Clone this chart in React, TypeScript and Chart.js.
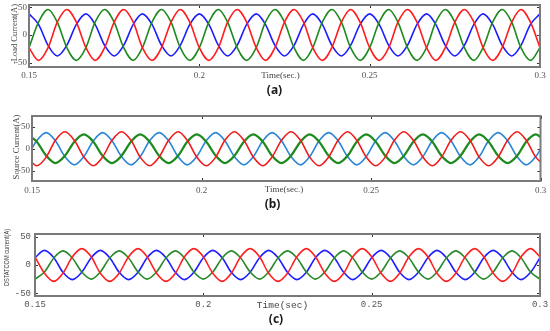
import React, { useEffect, useRef } from "react";
import { Chart, registerables } from "chart.js";

Chart.register(...registerables);

// ---- time grids (s) ----
const timesAC = [
  0.15, 0.1528, 0.1556, 0.1583, 0.1611, 0.1639,
  0.1667, 0.1694, 0.1722, 0.175, 0.1778, 0.1806,
  0.1833, 0.1861, 0.1889, 0.1917, 0.1944, 0.1972,
  0.2, 0.2028, 0.2056, 0.2083, 0.2111, 0.2139,
  0.2167, 0.2194, 0.2222, 0.225, 0.2278, 0.2306,
  0.2333, 0.2361, 0.2389, 0.2417, 0.2444, 0.2472,
  0.25, 0.2528, 0.2556, 0.2583, 0.2611, 0.2639,
  0.2667, 0.2694, 0.2722, 0.275, 0.2778, 0.2806,
  0.2833, 0.2861, 0.2889, 0.2917, 0.2944, 0.2972,
  0.3,
];
const timesB = [
  0.1486, 0.1514, 0.1542, 0.1569, 0.1597, 0.1625,
  0.1653, 0.1681, 0.1708, 0.1736, 0.1764, 0.1792,
  0.1819, 0.1847, 0.1875, 0.1903, 0.1931, 0.1958,
  0.1986, 0.2014, 0.2042, 0.2069, 0.2097, 0.2125,
  0.2153, 0.2181, 0.2208, 0.2236, 0.2264, 0.2292,
  0.2319, 0.2347, 0.2375, 0.2403, 0.2431, 0.2458,
  0.2486, 0.2514, 0.2542, 0.2569, 0.2597, 0.2625,
  0.2653, 0.2681, 0.2708, 0.2736, 0.2764, 0.2792,
  0.2819, 0.2847, 0.2875, 0.2903, 0.2931, 0.2958,
  0.2986, 0.3014,
];

// ---- (a) load current (A) ----
const loadRed = [
  -23, -46, -23, 23, 46, 23,
  -23, -46, -23, 23, 46, 23,
  -23, -46, -23, 23, 46, 23,
  -23, -46, -23, 23, 46, 23,
  -23, -46, -23, 23, 46, 23,
  -23, -46, -23, 23, 46, 23,
  -23, -46, -23, 23, 46, 23,
  -23, -46, -23, 23, 46, 23,
  -23, -46, -23, 23, 46, 23,
  -23,
];
const loadGreen = [
  -23, 23, 46, 23, -23, -46,
  -23, 23, 46, 23, -23, -46,
  -23, 23, 46, 23, -23, -46,
  -23, 23, 46, 23, -23, -46,
  -23, 23, 46, 23, -23, -46,
  -23, 23, 46, 23, -23, -46,
  -23, 23, 46, 23, -23, -46,
  -23, 23, 46, 23, -23, -46,
  -23, 23, 46, 23, -23, -46,
  -23,
];
const loadBlue = [
  38, 19, -19, -38, -19, 19,
  38, 19, -19, -38, -19, 19,
  38, 19, -19, -38, -19, 19,
  38, 19, -19, -38, -19, 19,
  38, 19, -19, -38, -19, 19,
  38, 19, -19, -38, -19, 19,
  38, 19, -19, -38, -19, 19,
  38, 19, -19, -38, -19, 19,
  38, 19, -19, -38, -19, 19,
  38,
];

// ---- (b) source current (A) ----
const sourceRed = [
  -19, -38.5, -19, 19, 38.5, 19,
  -19, -38.5, -19, 19, 38.5, 19,
  -19, -38.5, -19, 19, 38.5, 19,
  -19, -38.5, -19, 19, 38.5, 19,
  -19, -38.5, -19, 19, 38.5, 19,
  -19, -38.5, -19, 19, 38.5, 19,
  -19, -38.5, -19, 19, 38.5, 19,
  -19, -38.5, -19, 19, 38.5, 19,
  -19, -38.5, -19, 19, 38.5, 19,
  -19, -38.5,
];
const sourceGreen = [
  32.5, 16, -16, -32.5, -16, 16,
  32.5, 16, -16, -32.5, -16, 16,
  32.5, 16, -16, -32.5, -16, 16,
  32.5, 16, -16, -32.5, -16, 16,
  32.5, 16, -16, -32.5, -16, 16,
  32.5, 16, -16, -32.5, -16, 16,
  32.5, 16, -16, -32.5, -16, 16,
  32.5, 16, -16, -32.5, -16, 16,
  32.5, 16, -16, -32.5, -16, 16,
  32.5, 16,
];
const sourceBlue = [
  -18, 18, 36.5, 18, -18, -36.5,
  -18, 18, 36.5, 18, -18, -36.5,
  -18, 18, 36.5, 18, -18, -36.5,
  -18, 18, 36.5, 18, -18, -36.5,
  -18, 18, 36.5, 18, -18, -36.5,
  -18, 18, 36.5, 18, -18, -36.5,
  -18, 18, 36.5, 18, -18, -36.5,
  -18, 18, 36.5, 18, -18, -36.5,
  -18, 18, 36.5, 18, -18, -36.5,
  -18, 18,
];

// ---- (c) DSTATCOM current (A) ----
const dstatRed = [
  14.5, -14.5, -29, -14.5, 14.5, 29,
  14.5, -14.5, -29, -14.5, 14.5, 29,
  14.5, -14.5, -29, -14.5, 14.5, 29,
  14.5, -14.5, -29, -14.5, 14.5, 29,
  14.5, -14.5, -29, -14.5, 14.5, 29,
  14.5, -14.5, -29, -14.5, 14.5, 29,
  14.5, -14.5, -29, -14.5, 14.5, 29,
  14.5, -14.5, -29, -14.5, 14.5, 29,
  14.5, -14.5, -29, -14.5, 14.5, 29,
  14.5,
];
const dstatGreen = [
  -25, -12.5, 12.5, 25, 12.5, -12.5,
  -25, -12.5, 12.5, 25, 12.5, -12.5,
  -25, -12.5, 12.5, 25, 12.5, -12.5,
  -25, -12.5, 12.5, 25, 12.5, -12.5,
  -25, -12.5, 12.5, 25, 12.5, -12.5,
  -25, -12.5, 12.5, 25, 12.5, -12.5,
  -25, -12.5, 12.5, 25, 12.5, -12.5,
  -25, -12.5, 12.5, 25, 12.5, -12.5,
  -25, -12.5, 12.5, 25, 12.5, -12.5,
  -25,
];
const dstatBlue = [
  13, 26, 13, -13, -26, -13,
  13, 26, 13, -13, -26, -13,
  13, 26, 13, -13, -26, -13,
  13, 26, 13, -13, -26, -13,
  13, 26, 13, -13, -26, -13,
  13, 26, 13, -13, -26, -13,
  13, 26, 13, -13, -26, -13,
  13, 26, 13, -13, -26, -13,
  13, 26, 13, -13, -26, -13,
  13,
];

// ---- ticks ----
const xTickValues = [0.15, 0.2, 0.25, 0.3];
const xTickLabels = ["0.15", "0.2", "0.25", "0.3"];
const yTickValues = [-50, 0, 50];
const yTickLabels = ["-50", "0", "50"];

type Series = { label: string; values: number[]; color: string; width: number };
type PanelCfg = {
  top: number;
  height: number;
  area: { left: number; right: number; top: number; bottom: number };
  yMin: number;
  yMax: number;
  times: number[];
  series: Series[];
  tickFont: string;
  tickSize: number;
  yTickPad: number;
  xTickPad: number;
  yTitle: string;
  yTitlePos: [number, number];
  yTitleFont: string;
  yTitleScale: number;
  timeText: string;
  timePos: [number, number];
  timeFont: string;
  caption: string;
  captionPos: [number, number];
};

const SERIF = "'Liberation Serif', 'Times New Roman', serif";
const MONO = "'Liberation Mono', 'DejaVu Sans Mono', monospace";

const panels: PanelCfg[] = [
  {
    top: 0,
    height: 110,
    area: { left: 29, right: 540, top: 5, bottom: 67 },
    yMin: -58,
    yMax: 54,
    times: timesAC,
    series: [
      { label: "Phase a", values: loadRed, color: "#ff1c1c", width: 1.6 },
      { label: "Phase b", values: loadGreen, color: "#1e8a1e", width: 1.6 },
      { label: "Phase c", values: loadBlue, color: "#1c1cff", width: 1.6 },
    ],
    tickFont: SERIF,
    tickSize: 9,
    yTickPad: 2,
    xTickPad: 3,
    yTitle: "-Load Current(A)",
    yTitlePos: [15, 34],
    yTitleFont: `8.5px ${SERIF}`,
    yTitleScale: 1,
    timeText: "Time(sec.)",
    timePos: [280.5, 76],
    timeFont: `9px ${SERIF}`,
    caption: "(a)",
    captionPos: [274.5, 91],
  },
  {
    top: 110,
    height: 110,
    area: { left: 32, right: 540.5, top: 6, bottom: 71 },
    yMin: -73,
    yMax: 74,
    times: timesB,
    series: [
      { label: "Phase a", values: sourceRed, color: "#f21a1a", width: 1.6 },
      { label: "Phase b", values: sourceGreen, color: "#1f8a1f", width: 2.3 },
      { label: "Phase c", values: sourceBlue, color: "#2a86d6", width: 1.6 },
    ],
    tickFont: SERIF,
    tickSize: 9,
    yTickPad: 2,
    xTickPad: 4,
    yTitle: "Source Current(A)",
    yTitlePos: [17, 37],
    yTitleFont: `8.7px ${SERIF}`,
    yTitleScale: 1,
    timeText: "Time(sec.)",
    timePos: [284, 80],
    timeFont: `9px ${SERIF}`,
    caption: "(b)",
    captionPos: [272.5, 94.5],
  },
  {
    top: 220,
    height: 111,
    area: { left: 35, right: 540, top: 14, bottom: 76 },
    yMin: -55,
    yMax: 55,
    times: timesAC,
    series: [
      { label: "Phase a", values: dstatRed, color: "#ff2020", width: 1.6 },
      { label: "Phase b", values: dstatGreen, color: "#2a8a2a", width: 1.6 },
      { label: "Phase c", values: dstatBlue, color: "#2020ff", width: 1.6 },
    ],
    tickFont: MONO,
    tickSize: 9,
    yTickPad: 4,
    xTickPad: 3,
    yTitle: "DSTATCOM current(A)",
    yTitlePos: [7, 37.5],
    yTitleFont: `8px 'Liberation Sans', Arial, sans-serif`,
    yTitleScale: 0.7,
    timeText: "Time(sec)",
    timePos: [282.5, 85.5],
    timeFont: `9.5px ${MONO}`,
    caption: "(c)",
    captionPos: [276, 100],
  },
];

function makeFramePlugin(cfg: PanelCfg) {
  return {
    id: "frame",
    afterDraw(chart: any) {
      const ctx: CanvasRenderingContext2D = chart.ctx;
      const a = chart.chartArea;
      const xs = chart.scales.x;
      const ys = chart.scales.y;
      ctx.save();
      // inward tick marks
      ctx.strokeStyle = "#333";
      ctx.lineWidth = 1;
      ctx.beginPath();
      xTickValues.forEach((v) => {
        const px = Math.round(xs.getPixelForValue(v)) + 0.5;
        ctx.moveTo(px, a.top);
        ctx.lineTo(px, a.top + 3);
        ctx.moveTo(px, a.bottom);
        ctx.lineTo(px, a.bottom - 3);
      });
      yTickValues.forEach((v) => {
        const py = Math.round(ys.getPixelForValue(v)) + 0.5;
        ctx.moveTo(a.left, py);
        ctx.lineTo(a.left + 3, py);
        ctx.moveTo(a.right, py);
        ctx.lineTo(a.right - 3, py);
      });
      ctx.stroke();
      // box
      ctx.strokeStyle = "#7a7a7a";
      ctx.lineWidth = 2;
      ctx.strokeRect(a.left, a.top, a.right - a.left, a.bottom - a.top);
      // x title
      ctx.fillStyle = "#444";
      ctx.textAlign = "center";
      ctx.textBaseline = "middle";
      ctx.font = cfg.timeFont;
      ctx.fillText(cfg.timeText, cfg.timePos[0], cfg.timePos[1]);
      // caption
      ctx.fillStyle = "#1a1a1a";
      ctx.font = "bold 12px 'Noto Sans', 'Liberation Sans', sans-serif";
      ctx.fillText(cfg.caption, cfg.captionPos[0], cfg.captionPos[1]);
      // y title
      ctx.fillStyle = "#444";
      ctx.font = cfg.yTitleFont;
      ctx.translate(cfg.yTitlePos[0], cfg.yTitlePos[1]);
      ctx.rotate(-Math.PI / 2);
      ctx.scale(cfg.yTitleScale, 1);
      ctx.fillText(cfg.yTitle, 0, 0);
      ctx.restore();
    },
  };
}

function Panel({ cfg }: { cfg: PanelCfg }) {
  const ref = useRef<HTMLCanvasElement>(null);
  useEffect(() => {
    if (!ref.current) return;
    const chart = new Chart(ref.current, {
      type: "line",
      data: {
        datasets: cfg.series.map((s) => ({
          label: s.label,
          data: cfg.times.map((t, i) => ({ x: t, y: s.values[i] })),
          borderColor: s.color,
          backgroundColor: s.color,
          borderWidth: s.width,
          pointRadius: 0,
          fill: false,
          cubicInterpolationMode: "monotone" as const,
        })),
      },
      options: {
        animation: false,
        responsive: true,
        maintainAspectRatio: false,
        events: [],
        layout: {
          padding: { left: 0, right: 550 - cfg.area.right, top: cfg.area.top, bottom: 0 },
        },
        plugins: { legend: { display: false }, tooltip: { enabled: false } },
        scales: {
          x: {
            type: "linear",
            min: 0.15,
            max: 0.3,
            grid: { display: false, drawTicks: false },
            border: { display: false },
            afterBuildTicks: (s: any) => {
              s.ticks = xTickValues.map((v) => ({ value: v }));
            },
            afterFit: (s: any) => {
              s.height = cfg.height - cfg.area.bottom;
              s.paddingLeft = 0;
              s.paddingRight = 0;
            },
            ticks: {
              autoSkip: false,
              maxRotation: 0,
              padding: cfg.xTickPad,
              color: "#555",
              font: { family: cfg.tickFont, size: cfg.tickSize },
              callback: (_v: any, i: number) => xTickLabels[i],
            },
          },
          y: {
            type: "linear",
            min: cfg.yMin,
            max: cfg.yMax,
            grid: { display: false, drawTicks: false },
            border: { display: false },
            afterBuildTicks: (s: any) => {
              s.ticks = yTickValues.map((v) => ({ value: v }));
            },
            afterFit: (s: any) => {
              s.width = cfg.area.left;
              s.paddingTop = 0;
              s.paddingBottom = 0;
            },
            ticks: {
              padding: cfg.yTickPad,
              color: "#555",
              font: { family: cfg.tickFont, size: cfg.tickSize },
              callback: (_v: any, i: number) => yTickLabels[i],
            },
          },
        },
      },
      plugins: [makeFramePlugin(cfg)],
    });
    return () => chart.destroy();
  }, [cfg]);
  return (
    <div style={{ position: "absolute", left: 0, top: cfg.top, width: 550, height: cfg.height }}>
      <canvas ref={ref} />
    </div>
  );
}

export default function App() {
  return (
    <div style={{ position: "absolute", left: 0, top: 0, width: 550, height: 331, background: "#fff" }}>
      {panels.map((p, i) => (
        <Panel key={i} cfg={p} />
      ))}
    </div>
  );
}
